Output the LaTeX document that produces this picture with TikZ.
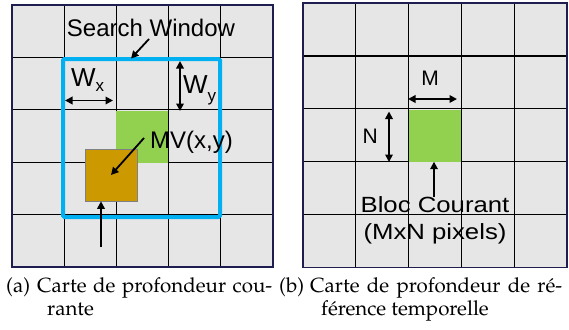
\documentclass[tikz,border=0pt]{standalone}
\usepackage[T1]{fontenc}
\usepackage{fontspec}
\usetikzlibrary{arrows.meta}
\newfontfamily\swfont{Liberation Sans}
\newfontfamily\swsfont[FakeStretch=1.17]{Liberation Sans}
\definecolor{cellgray}{HTML}{E6E6E6}
\definecolor{bordernavy}{HTML}{1F1F4F}
\definecolor{swblue}{HTML}{00B0F0}
\definecolor{blkgreen}{HTML}{92D050}
\definecolor{blkorange}{HTML}{CC9900}
\newcommand{\capfont}{\fontencoding{T1}\fontfamily{ppl}\fontsize{20.5}{23}\selectfont}
\tikzset{
  gridline/.style={line width=1.3pt, black},
  gridborder/.style={line width=1.5pt, bordernavy},
  arr/.style={line width=1.8pt, -{Triangle[length=7.5pt,width=7.5pt]}},
  darr/.style={line width=1.8pt, {Triangle[length=7.5pt,width=7.5pt]}-{Triangle[length=7.5pt,width=7.5pt]}},
  lbl/.style={inner sep=0pt, anchor=base},
  captxt/.style={inner sep=0pt, anchor=base west, font=\capfont},
}
\begin{document}
\begin{tikzpicture}[x=1pt,y=-1pt]
\useasboundingbox (0,0) rectangle (569,329);
\fill[white] (0,0) rectangle (569,329);

% ---------- left grid ----------
\fill[cellgray] (12,5) rectangle (273,267);
\foreach \i in {1,...,4} {
  \draw[gridline] ({12+52.2*\i},5) -- ({12+52.2*\i},267);
  \draw[gridline] (12,{5+52.4*\i}) -- (273,{5+52.4*\i});
}
\draw[gridborder] (12,5) rectangle (273,267);

% green block (left)
\node[draw=none, fill=blkgreen, inner sep=0, minimum width=52pt, minimum height=52pt] (gl) at (142,136.5) {};
% orange block
\node[draw=gray, line width=0.6pt, fill=blkorange, inner sep=0, minimum width=52pt, minimum height=52pt] (ob) at (111,175) {};

% search window
\node[draw=swblue, line width=4pt, rounded corners=1.5pt, inner sep=0, minimum width=157pt, minimum height=158pt] (sw) at (141.5,138) {};

% labels left
\node[lbl, font=\swfont\fontsize{24}{24}\selectfont] (swl) at (151,36.5) {Search Window};
\coordinate (swa0) at (149,39);
\coordinate (swa1) at (131,58.5);
\draw[arr] (swa0) -- (swa1);

\node[inner sep=0, anchor=base west, font=\swfont\fontsize{26}{26}\selectfont] (wx) at (71,86) {W\raisebox{-5.7pt}{\fontsize{17}{17}\selectfont x}};
\coordinate (wxa) at (65,100.5);
\coordinate (wxb) at (113,100.5);
\draw[darr] (wxa) -- (wxb);

\node[inner sep=0, anchor=base west, font=\swfont\fontsize{26}{26}\selectfont] (wy) at (183,93.3) {W\raisebox{-8.3pt}{\fontsize{17}{17}\selectfont y}};
\coordinate (wya) at (180,61);
\coordinate (wyb) at (180,111);
\draw[darr] (wya) -- (wyb);

\node[inner sep=0, anchor=base west, font=\swfont\fontsize{24}{24}\selectfont] (mv) at (150,148) {MV(x,y)};
\coordinate (mva) at (144,138);
\draw[arr] (mva) -- (ob.center);

\coordinate (ba) at (101,247);
\draw[arr] (ba) -- (ob.south -| ba);

% ---------- right grid ----------
\fill[cellgray] (303,3) rectangle (567,267.5);
\foreach \i in {1,...,4} {
  \draw[gridline] ({303+52.8*\i},3) -- ({303+52.8*\i},267.5);
  \draw[gridline] (303,{3+52.9*\i}) -- (567,{3+52.9*\i});
}
\draw[gridborder] (303,3) rectangle (567,267.5);

\node[fill=blkgreen, inner sep=0, minimum width=52pt, minimum height=52pt] (gr) at (434.5,135.5) {};

\node[lbl, font=\swfont\fontsize{21}{21}\selectfont] (ml) at (430,85) {M};
\coordinate (ma) at (408,99);
\coordinate (mb) at (457,99);
\draw[darr] (ma) -- (mb);

\node[inner sep=0, anchor=base east, font=\swfont\fontsize{21}{21}\selectfont] (nl) at (378,143) {N};
\coordinate (na) at (389,111.5);
\coordinate (nb) at (389,162);
\draw[darr] (na) -- (nb);

\coordinate (ua) at (434,197);
\draw[arr] (ua) -- (gr.south -| ua);

\node[lbl, font=\swsfont\fontsize{22}{22}\selectfont] (bc) at (435,212.3) {Bloc Courant};
\node[lbl, font=\swsfont\fontsize{22}{22}\selectfont] (px) at (435,239.3) {(MxN pixels)};

% ---------- captions ----------
\node[captxt] (capal) at (6,292.5) {(a)};
\node[captxt] (capa) at (37,292.5) {\parbox[t]{235pt}{\capfont Carte de profondeur cou-\linebreak \hspace*{10pt}rante}};
\node[captxt] (capbl) at (279,292.5) {(b)};
\node[captxt] (capb) at (310,292.5) {\parbox[t]{252pt}{\capfont Carte de profondeur de r\'e-\linebreak \hspace*{11pt}f\'erence temporelle}};
\end{tikzpicture}
\end{document}
